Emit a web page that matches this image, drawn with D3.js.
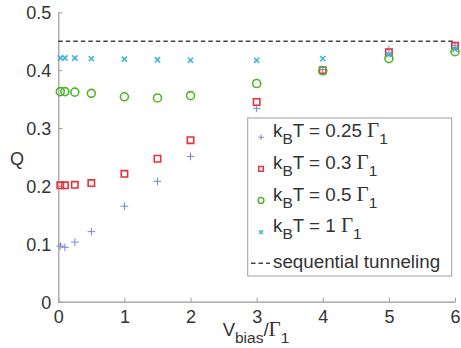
<!DOCTYPE html>
<html>
<head>
<meta charset="utf-8">
<script src="https://cdn.jsdelivr.net/npm/d3@7"></script>
<style>
  html, body { margin: 0; padding: 0; background: #fff; }
  svg { display: block; }
  text { font-family: "Liberation Sans", Arial, Helvetica, sans-serif; fill: #333; }
</style>
</head>
<body>
<svg id="chart" width="461" height="348"></svg>
<script>
// Bias voltages (in units of Gamma_1)
const vbias = [0.03, 0.1, 0.25, 0.5, 1, 1.5, 2, 3, 4, 5, 6];

// Q for each temperature
const qT025 = [0.096, 0.094, 0.103, 0.121, 0.165, 0.208, 0.251, 0.334, 0.401, 0.436, 0.443];
const qT03  = [0.201, 0.201, 0.202, 0.205, 0.221, 0.247, 0.279, 0.345, 0.400, 0.431, 0.442];
const qT05  = [0.363, 0.363, 0.362, 0.360, 0.354, 0.352, 0.356, 0.377, 0.399, 0.420, 0.432];
const qT1   = [0.421, 0.421, 0.421, 0.420, 0.419, 0.418, 0.417, 0.417, 0.420, 0.427, 0.436];

// Sequential tunneling limit
const qSequential = 0.45;

const temps = ["0.25", "0.3", "0.5", "1"];
const xTicks = [0, 1, 2, 3, 4, 5, 6];
const yTicks = [0, 0.1, 0.2, 0.3, 0.4, 0.5];

const series = [
  { t: temps[0], q: qT025, marker: "plus",   color: "#7383d6" },
  { t: temps[1], q: qT03,  marker: "square", color: "#e8313b" },
  { t: temps[2], q: qT05,  marker: "circle", color: "#4fb52a" },
  { t: temps[3], q: qT1,   marker: "cross",  color: "#3bb6da" }
];

const svg = d3.select("#chart");
const x = d3.scaleLinear().domain([0, 6]).range([58.3, 455]);
const y = d3.scaleLinear().domain([0, 0.5]).range([301.7, 12.3]);

// Axes: left and bottom only, ticks pointing inward
const axisColor = "#9a9a9a";
const yAxis = svg.append("g").attr("transform", `translate(${x(0)},0)`)
  .call(d3.axisLeft(y).tickValues(yTicks).tickSizeInner(-4).tickSizeOuter(0)
        .tickPadding(7).tickFormat(d => d === 0 ? "0" : d3.format(".1f")(d)));
const xAxis = svg.append("g").attr("transform", `translate(0,${y(0)})`)
  .call(d3.axisBottom(x).tickValues(xTicks).tickSizeInner(-4).tickSizeOuter(0)
        .tickPadding(9).tickFormat(d3.format("d")));
[xAxis, yAxis].forEach(a => {
  a.select(".domain").attr("stroke", axisColor).attr("stroke-width", 1.2);
  a.selectAll(".tick line").attr("stroke", axisColor).attr("stroke-width", 1);
  a.selectAll(".tick text").attr("font-size", 18).attr("fill", "#333")
    .style("font-family", "'Liberation Sans', Arial, sans-serif");
});
yAxis.selectAll(".tick text").attr("dy", "0.36em");

// Sequential tunneling line
svg.append("line")
  .attr("x1", x(0)).attr("x2", x(6))
  .attr("y1", y(qSequential)).attr("y2", y(qSequential))
  .attr("stroke", "#444").attr("stroke-width", 1.5)
  .attr("stroke-dasharray", "4.5,3");

// Marker shapes (scale k shrinks them for the legend)
function markerPath(kind, cx, cy, k = 1) {
  const p = d3.path();
  if (kind === "plus") {
    const r = 3.8 * k;
    p.moveTo(cx - r, cy); p.lineTo(cx + r, cy);
    p.moveTo(cx, cy - r); p.lineTo(cx, cy + r);
  } else if (kind === "cross") {
    const r = 2.6 * k;
    p.moveTo(cx - r, cy - r); p.lineTo(cx + r, cy + r);
    p.moveTo(cx - r, cy + r); p.lineTo(cx + r, cy - r);
  } else if (kind === "square") {
    const r = 3.2 * k;
    p.rect(cx - r, cy - r, 2 * r, 2 * r);
  } else if (kind === "circle") {
    const r = 4 * k;
    p.moveTo(cx + r, cy); p.arc(cx, cy, r, 0, 2 * Math.PI);
  }
  return p.toString();
}

const plot = svg.append("g");
series.forEach(s => {
  plot.append("g").selectAll("path")
    .data(vbias.map((v, i) => [v, s.q[i]]))
    .join("path")
    .attr("d", d => markerPath(s.marker, x(d[0]), y(d[1])))
    .attr("fill", "none")
    .attr("stroke", s.color)
    .attr("stroke-width", s.marker === "plus" ? 1 : 1.6);
});

// Legend
const lg = svg.append("g");
const lx0 = 247.7, ly0 = 118, lw = 204, lh = 158;
lg.append("rect").attr("x", lx0).attr("y", ly0).attr("width", lw).attr("height", lh)
  .attr("fill", "#fff").attr("stroke", "#a0a0a0").attr("stroke-width", 1);
const rowH = lh / 5;
const gammaFont = "'Liberation Serif', 'Times New Roman', serif";
const lfs = 18.8;

series.forEach((s, i) => {
  const cy = ly0 + rowH * (i + 0.5) + 1.5;
  lg.append("path").attr("d", markerPath(s.marker, 261, cy + 2, 0.72))
    .attr("fill", "none").attr("stroke", s.color)
    .attr("stroke-width", s.marker === "plus" ? 1 : 1.5);
  const t = lg.append("text").attr("x", 273).attr("y", cy + 2).attr("font-size", lfs).attr("fill", "#333");
  t.append("tspan").text("k");
  t.append("tspan").attr("dy", 7).attr("font-size", 15.5).text("B");
  t.append("tspan").attr("dy", -7).text("T = " + s.t + " ");
  t.append("tspan").style("font-family", gammaFont).attr("font-size", 21).text("\u0393");
  t.append("tspan").attr("dy", 7).attr("font-size", 15.5).text("1");
});
{
  const cy = ly0 + rowH * 4.5;
  lg.append("line").attr("x1", 251).attr("x2", 270).attr("y1", cy + 3).attr("y2", cy + 3)
    .attr("stroke", "#444").attr("stroke-width", 1.5).attr("stroke-dasharray", "4.5,3");
  lg.append("text").attr("x", 273).attr("y", cy + 8).attr("font-size", lfs).attr("fill", "#333")
    .text("sequential tunneling");
}

// Axis titles
svg.append("text").attr("x", 17).attr("y", 165).attr("text-anchor", "middle")
  .attr("font-size", 18).text("Q");

const xl = svg.append("text").attr("x", 256).attr("y", 336).attr("text-anchor", "middle")
  .attr("font-size", 18.5);
xl.append("tspan").text("V");
xl.append("tspan").attr("dy", 7).attr("font-size", 15.5).text("bias");
xl.append("tspan").attr("dy", -7).text("/");
xl.append("tspan").style("font-family", gammaFont).attr("font-size", 21).text("\u0393");
xl.append("tspan").attr("dy", 7).attr("font-size", 15.5).text("1");
</script>
</body>
</html>
